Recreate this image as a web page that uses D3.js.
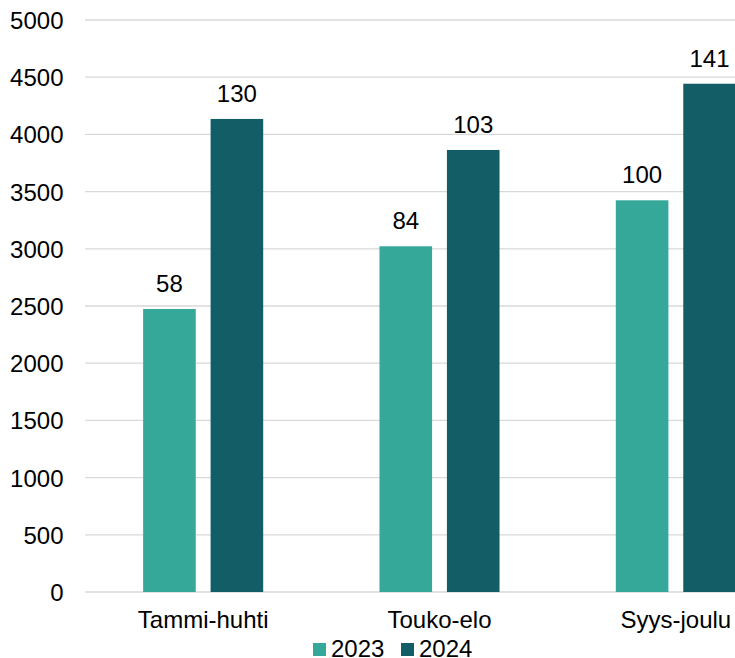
<!DOCTYPE html>
<html>
<head>
<meta charset="utf-8">
<script src="https://cdn.jsdelivr.net/npm/d3@7"></script>
<style>
  html, body { margin: 0; padding: 0; background: #fff; overflow: hidden; }
  svg { display: block; font-family: "Liberation Sans", Arial, sans-serif; }
</style>
</head>
<body>
<svg id="chart" width="735" height="658"></svg>
<script>
// Periods and series
const categories = ["Tammi-huhti", "Touko-elo", "Syys-joulu"];
const seriesNames = ["2023", "2024"];
const values2023 = [2474, 3022, 3424];
const values2024 = [4135, 3864, 4443];
const labels2023 = [58, 84, 100];
const labels2024 = [130, 103, 141];
const yTicks = [0, 500, 1000, 1500, 2000, 2500, 3000, 3500, 4000, 4500, 5000];
const colors = ["#36A899", "#135E66"];

const seriesValues = [values2023, values2024];
const seriesLabels = [labels2023, labels2024];

const svg = d3.select("#chart");
const W = 735;
const plot = { left: 85, right: 794, top: 20, bottom: 592 };

const x0 = d3.scaleBand()
  .domain(categories)
  .range([plot.left, plot.right])
  .paddingInner(0.492)
  .paddingOuter(0.246);

const x1 = d3.scaleBand()
  .domain(seriesNames)
  .range([0, x0.bandwidth()])
  .paddingInner(0.22)
  .paddingOuter(0);

const y = d3.scaleLinear().domain([0, 5000]).range([plot.bottom, plot.top]);
const color = d3.scaleOrdinal().domain(seriesNames).range(colors);

// Horizontal gridlines
svg.append("g")
  .selectAll("line")
  .data(yTicks)
  .join("line")
  .attr("x1", plot.left)
  .attr("x2", W)
  .attr("y1", d => y(d))
  .attr("y2", d => y(d))
  .attr("stroke", "#D9D9D9")
  .attr("stroke-width", 1.3);

// Y axis labels
const yAxis = d3.axisLeft(y).tickValues(yTicks).tickSize(0).tickPadding(0).tickFormat(d3.format("d"));
svg.append("g")
  .attr("transform", "translate(63.5,0)")
  .call(yAxis)
  .call(g => g.select(".domain").remove())
  .call(g => g.selectAll("text")
    .attr("font-size", 24)
    .attr("font-family", "Liberation Sans, Arial, sans-serif")
    .attr("fill", "#000")
    .attr("dy", "0.35em"));

// Bars
const rows = categories.map((c, i) => ({
  cat: c,
  items: seriesNames.map((s, k) => ({ s, v: seriesValues[k][i], lab: seriesLabels[k][i] }))
}));

const groups = svg.append("g")
  .selectAll("g")
  .data(rows)
  .join("g")
  .attr("transform", d => `translate(${x0(d.cat)},0)`);

groups.selectAll("rect")
  .data(d => d.items)
  .join("rect")
  .attr("x", d => x1(d.s))
  .attr("width", x1.bandwidth())
  .attr("y", d => y(d.v))
  .attr("height", d => y(0) - y(d.v))
  .attr("fill", d => color(d.s));

groups.selectAll("text")
  .data(d => d.items)
  .join("text")
  .attr("x", d => x1(d.s) + x1.bandwidth() / 2)
  .attr("y", d => y(d.v) - 17)
  .attr("text-anchor", "middle")
  .attr("font-size", 24)
  .attr("fill", "#000")
  .text(d => d.lab);

// Category labels
const xAxis = d3.axisBottom(x0).tickSize(0).tickPadding(0);
svg.append("g")
  .attr("transform", `translate(0,${plot.bottom})`)
  .call(xAxis)
  .call(g => g.select(".domain").remove())
  .call(g => g.selectAll("text")
    .attr("font-size", 24)
    .attr("font-family", "Liberation Sans, Arial, sans-serif")
    .attr("fill", "#000")
    .attr("dy", null)
    .attr("y", 36));

// Legend
const legendX = [313, 401];
const legend = svg.append("g")
  .selectAll("g")
  .data(seriesNames)
  .join("g")
  .attr("transform", (d, i) => `translate(${legendX[i]},643)`);

legend.append("rect")
  .attr("width", 13)
  .attr("height", 13)
  .attr("fill", d => color(d));

legend.append("text")
  .attr("x", 18)
  .attr("y", 14)
  .attr("font-size", 24)
  .attr("fill", "#000")
  .text(d => d);
</script>
</body>
</html>
